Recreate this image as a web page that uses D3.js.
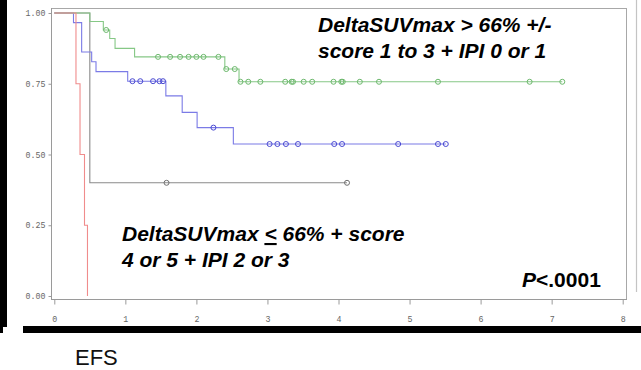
<!DOCTYPE html>
<html><head><meta charset="utf-8">
<script src="https://cdn.jsdelivr.net/npm/d3@7"></script>
<style>html,body{margin:0;padding:0;background:#fff;overflow:hidden;}svg{display:block;}</style>
</head><body>
<svg id="chart" width="641" height="370" viewBox="0 0 641 370"></svg>
<script>
// ---- data ----
const xTicks = [0, 1, 2, 3, 4, 5, 6, 7, 8];
const yTicks = [0, 0.25, 0.5, 0.75, 1.0];
const yTickLabels = ["0.00", "0.25", "0.50", "0.75", "1.00"];

const greenTimes = [0, 0.50, 0.69, 0.78, 0.855, 1.13, 2.40, 2.60];
const greenSurv  = [1.00, 0.97, 0.94, 0.91, 0.875, 0.845, 0.802, 0.757];
const greenEnd = 7.15;
const greenCensor = [0.73, 1.46, 1.63, 1.77, 1.89, 2.00, 2.10, 2.31, 2.42, 2.54, 2.62, 2.73, 2.90, 3.25, 3.34, 3.36, 3.51, 3.63, 3.93, 4.04, 4.06, 4.30, 4.57, 5.40, 6.69, 7.15];

const blueTimes = [0, 0.27, 0.385, 0.526, 0.587, 1.033, 1.57, 1.80, 2.01, 2.52];
const blueSurv  = [1.00, 0.966, 0.862, 0.828, 0.793, 0.759, 0.707, 0.649, 0.595, 0.537];
const blueEnd = 5.51;
const blueCensor = [1.10, 1.21, 1.39, 1.48, 1.53, 2.24, 3.03, 3.14, 3.26, 3.43, 3.94, 4.05, 4.84, 5.40, 5.51];

const grayTimes = [0, 0.50];
const graySurv  = [1.00, 0.40];
const grayEnd = 4.12;
const grayCensor = [1.58, 4.12];

const redTimes = [0, 0.305, 0.362, 0.425, 0.467];
const redSurv  = [1.00, 0.75, 0.50, 0.25, 0.00];
const redEnd = 0.467;
const redCensor = [];

const series = [
  {name: "gray",  times: grayTimes,  surv: graySurv,  end: grayEnd,  censor: grayCensor,  line: "#8a8a8a", mark: "#707070"},
  {name: "blue",  times: blueTimes,  surv: blueSurv,  end: blueEnd,  censor: blueCensor,  line: "#7b7be6", mark: "#4a4ad2"},
  {name: "green", times: greenTimes, surv: greenSurv, end: greenEnd, censor: greenCensor, line: "#86c886", mark: "#6cb86c"},
  {name: "red",   times: redTimes,   surv: redSurv,   end: redEnd,   censor: redCensor,   line: "#f08c8c", mark: "#e06060"}
];

// ---- drawing ----
const svg = d3.select("#chart");
const x = d3.scaleLinear().domain([0, 8]).range([54.3, 622.7]);
const y = d3.scaleLinear().domain([0, 1]).range([296, 13]);

const frameL = 51, frameR = 627, frameT = 8, frameB = 299;

// decoration bars (from the pasted screenshot)
svg.append("rect").attr("x", 23).attr("y", 326).attr("width", 618).attr("height", 7).attr("fill", "#000");
svg.append("rect").attr("x", 0).attr("y", 0).attr("width", 7).attr("height", 327).attr("fill", "#000");
svg.append("rect").attr("x", 0).attr("y", 327).attr("width", 3).attr("height", 6).attr("fill", "#000");

svg.append("line").attr("x1", 636.5).attr("x2", 636.5).attr("y1", 0).attr("y2", 292)
  .attr("stroke", "#c4c4c4").attr("stroke-width", 1.2);

// frame
const frame = svg.append("g").attr("fill", "none").attr("stroke", "#a8a8a8").attr("stroke-width", 1);
frame.append("line").attr("x1", frameL).attr("x2", frameR).attr("y1", frameT + 0.5).attr("y2", frameT + 0.5);
frame.append("line").attr("x1", frameR - 0.5).attr("x2", frameR - 0.5).attr("y1", frameT).attr("y2", frameB);
frame.append("line").attr("x1", frameL + 0.5).attr("x2", frameL + 0.5).attr("y1", frameT).attr("y2", frameB + 0.5)
  .attr("stroke", "#9a9a9a");
frame.append("line").attr("x1", frameL).attr("x2", frameR).attr("y1", frameB + 0.5).attr("y2", frameB + 0.5)
  .attr("stroke", "#9a9a9a");

// axes
const tickFont = "'Liberation Mono', 'DejaVu Sans Mono', monospace";
const xAxis = d3.axisBottom(x).tickValues(xTicks).tickSize(5).tickPadding(12).tickFormat(d3.format("d"));
const gx = svg.append("g").attr("transform", `translate(0,${frameB + 0.5})`).call(xAxis);
gx.select(".domain").remove();
gx.selectAll(".tick line").attr("stroke", "#9a9a9a");
gx.selectAll(".tick text").attr("fill", "#666").style("fill", "#666")
  .style("font-family", tickFont).style("font-size", "8.3px");

const yAxis = d3.axisLeft(y).tickValues(yTicks).tickSize(3).tickPadding(3).tickFormat((d, i) => yTickLabels[i]);
const gy = svg.append("g").attr("transform", `translate(${frameL + 0.5},0)`).call(yAxis);
gy.select(".domain").remove();
gy.selectAll(".tick line").attr("stroke", "#9a9a9a");
gy.selectAll(".tick text").attr("fill", "#666").style("fill", "#666")
  .style("font-family", tickFont).style("font-size", "8.3px");

// survival curves
function stepValue(s, t) {
  let v = s.surv[0];
  for (let i = 0; i < s.times.length; i++) if (s.times[i] <= t) v = s.surv[i];
  return v;
}
const line = d3.line().x(d => x(d[0])).y(d => y(d[1])).curve(d3.curveStepAfter);
series.forEach(s => {
  const pts = s.times.map((t, i) => [t, s.surv[i]]);
  pts.push([s.end, s.surv[s.surv.length - 1]]);
  svg.append("path").datum(pts).attr("d", line)
    .attr("fill", "none").attr("stroke", s.line).attr("stroke-width", 1.1);
});
series.forEach(s => {
  svg.append("g").selectAll("circle").data(s.censor).join("circle")
    .attr("cx", d => x(d)).attr("cy", d => y(stepValue(s, d))).attr("r", 2.5)
    .attr("fill", "none").attr("stroke", s.mark).attr("stroke-width", 1);
});

// annotations
const annFont = "'Liberation Sans', Arial, sans-serif";
function ann(txt, xx, yy) {
  return svg.append("text").attr("x", xx).attr("y", yy)
    .style("font-family", annFont).style("font-size", "21px").style("font-weight", "bold").style("font-style", "italic")
    .attr("fill", "#000").text(txt);
}
ann("DeltaSUVmax > 66% +/-", 318, 32);
ann("score 1 to 3 + IPI 0 or 1", 318, 58);
const b1 = svg.append("text").attr("x", 122).attr("y", 241)
  .style("font-family", annFont).style("font-size", "21px").style("font-weight", "bold").style("font-style", "italic");
b1.append("tspan").text("DeltaSUVmax ");
b1.append("tspan").style("text-decoration", "underline").text("<");
b1.append("tspan").text(" 66% + score");
ann("4 or 5 + IPI 2 or 3", 122, 267);
const p = svg.append("text").attr("x", 522).attr("y", 286.5)
  .style("font-family", annFont).style("font-size", "21px").style("font-weight", "bold");
p.append("tspan").style("font-style", "italic").text("P");
p.append("tspan").text("<.0001");

svg.append("text").attr("x", 75).attr("y", 365)
  .style("font-family", annFont).style("font-size", "22px").attr("fill", "#111").text("EFS");
</script>
</body></html>
